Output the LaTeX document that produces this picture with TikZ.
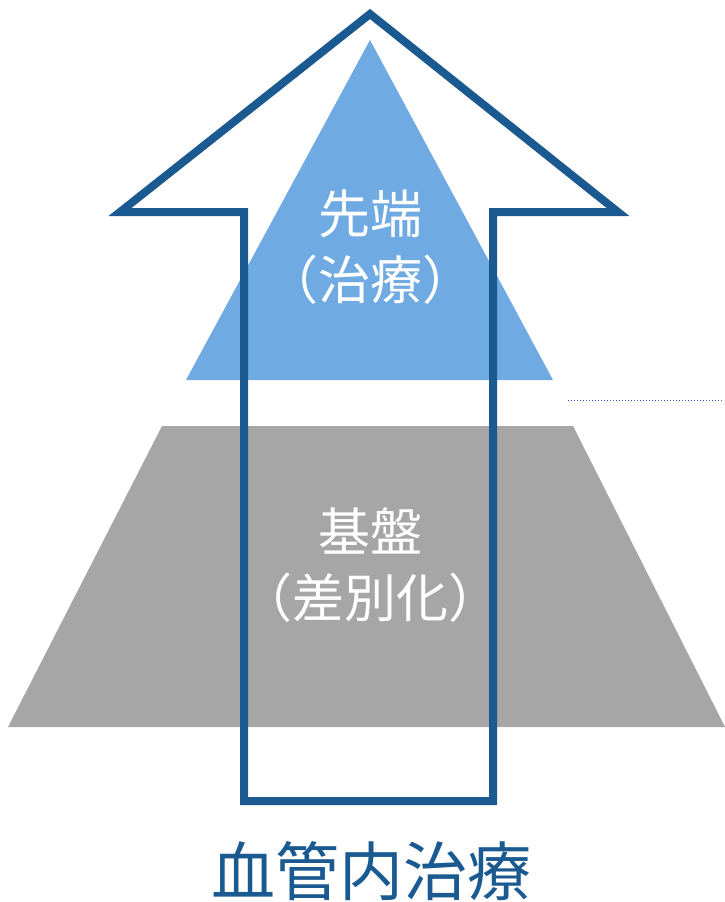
\documentclass[tikz,border=0pt]{standalone}
\usepackage{fontspec}
\newfontfamily\jpfont{Noto Sans CJK JP}
\definecolor{arrowblue}{RGB}{27,90,145}
\definecolor{triblue}{RGB}{111,170,226}
\definecolor{basegray}{RGB}{166,166,166}
\definecolor{dotblue}{RGB}{60,90,200}
\tikzset{
  label/.style={text=white, font=\jpfont\fontsize{52}{66}\selectfont, align=center, inner sep=0pt},
  title/.style={text=arrowblue, font=\jpfont\fontsize{64}{70}\selectfont, inner sep=0pt},
  outline/.style={draw=arrowblue, line width=8pt, miter limit=10}
}
\begin{document}
\begin{tikzpicture}[x=1pt,y=-1pt]
\useasboundingbox (0,0) rectangle (725,902);
% base trapezoid
\fill[basegray] (162,426) -- (573,426) -- (725,727) -- (8,727) -- cycle;
% top triangle
\fill[triblue] (370,40) -- (553,380) -- (186,380) -- cycle;
% dotted line
\draw[dotblue, line width=1pt, dotted] (568,400) coordinate (d1) -- (723,400) coordinate (d2);
% arrow outline
\draw[outline] (244,801) -- (244,212) -- (120,212) -- (370,14) -- (618,212) -- (493,212) -- (493,801) -- cycle;
% texts
\node[label] (top) at (370,247) {先端\\（治療）};
\node[label] (base) at (370,565) {基盤\\（差別化）};
\node[title] (ttl) at (371,871) {血管内治療};
\end{tikzpicture}
\end{document}
